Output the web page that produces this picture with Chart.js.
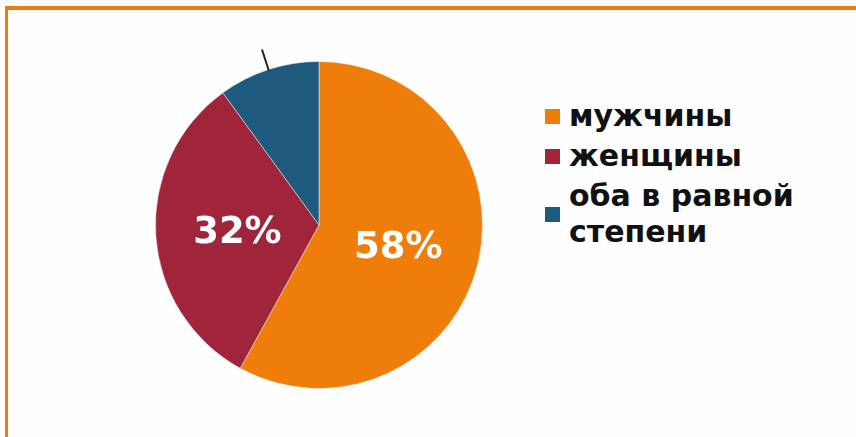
<!DOCTYPE html>
<html>
<head>
<meta charset="utf-8">
<script src="https://cdn.jsdelivr.net/npm/chart.js@4"></script>
<style>
    html, body { margin: 0; padding: 0; background: #fff; }
    body { width: 856px; height: 437px; position: relative; overflow: hidden; font-family: 'DejaVu Sans', Verdana, sans-serif; }
    .frame {
        position: absolute; left: 5px; top: 6px; width: 880px; height: 460px;
        border-top: 4px solid #EC7C0C; border-left: 3px solid #EC7C0C;
        background: #fefefe;
    }
    .pie-wrap { position: absolute; left: 129px; top: 35px; width: 380px; height: 380px; }
    .legend { position: absolute; left: 545px; top: 98px; }
    .legend-item { display: flex; align-items: center; font-weight: bold; font-size: 30px; line-height: 36px; color: #111; margin-bottom: 4px; }
    .legend-item .box { width: 15px; height: 15px; margin-right: 9px; flex: none; }
</style>
</head>
<body>
<div class="frame"></div>
<div class="pie-wrap"><canvas id="pieChart" width="380" height="380"></canvas></div>
<div class="legend" id="legend"></div>
<script>
const LABELS = [['мужчины'], ['женщины'], ['оба в равной', 'степени']];
const SHARES = [58, 32, 10];
const COLORS = ['#EF7D0A', '#A0243A', '#1D5A7E'];
const SHOW_VALUE = [true, true, false];

// legend on the right, one square per slice
const legend = document.getElementById('legend');
LABELS.forEach((lines, i) => {
    const item = document.createElement('div');
    item.className = 'legend-item';
    const box = document.createElement('span');
    box.className = 'box';
    box.style.background = COLORS[i];
    const text = document.createElement('span');
    text.innerHTML = lines.join('<br>');
    item.appendChild(box);
    item.appendChild(text);
    legend.appendChild(item);
});

// percentages inside the slices, leader line for the ones left unlabelled
const sliceLabels = {
    id: 'sliceLabels',
    afterDatasetsDraw(chart) {
        const { ctx } = chart;
        const arcs = chart.getDatasetMeta(0).data;
        arcs.forEach((arc, i) => {
            const value = chart.data.datasets[0].data[i];
            if (SHOW_VALUE[i]) {
                const pos = arc.tooltipPosition();
                ctx.save();
                ctx.fillStyle = '#fff';
                ctx.font = 'bold 37px "DejaVu Sans", Verdana, sans-serif';
                ctx.textAlign = 'center';
                ctx.textBaseline = 'middle';
                ctx.fillText(`${value}%`, pos.x, pos.y + 3);
                ctx.restore();
            } else {
                const mid = (arc.startAngle + arc.endAngle) / 2;
                const r0 = arc.outerRadius - 1;
                const r1 = arc.outerRadius + 21;
                ctx.save();
                ctx.strokeStyle = '#222';
                ctx.lineWidth = 2;
                ctx.beginPath();
                ctx.moveTo(arc.x + Math.cos(mid) * r0, arc.y + Math.sin(mid) * r0);
                ctx.lineTo(arc.x + Math.cos(mid) * r1, arc.y + Math.sin(mid) * r1);
                ctx.stroke();
                ctx.restore();
            }
        });
    },
};

new Chart(document.getElementById('pieChart').getContext('2d'), {
    type: 'pie',
    data: {
        labels: LABELS.map((l) => l.join(' ')),
        datasets: [{
            data: SHARES,
            backgroundColor: COLORS,
            borderWidth: 1,
            borderColor: 'rgba(255,255,255,0.45)',
        }],
    },
    options: {
        responsive: false,
        animation: false,
        layout: { padding: 26 },
        plugins: {
            legend: { display: false },
            tooltip: { enabled: false },
        },
    },
    plugins: [sliceLabels],
});
</script>
</body>
</html>
